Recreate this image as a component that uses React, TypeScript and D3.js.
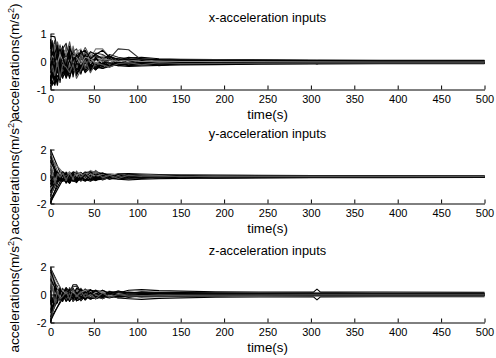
import React, { useEffect, useRef } from 'react';
import * as d3 from 'd3';

const timeSeconds = [0, 2, 5, 8, 11, 14, 18, 22, 26, 30, 35, 40, 46, 52, 60, 68, 78, 90, 105, 125, 150, 190, 240, 303, 307, 311, 380, 500];

const xTicks = [0, 50, 100, 150, 200, 250, 300, 350, 400, 450, 500];
const yTicksX = [-1, 0, 1];
const yTicksYZ = [-2, 0, 2];
const panelTitles = ['x-acceleration inputs', 'y-acceleration inputs', 'z-acceleration inputs'];
const xAxisLabel = 'time(s)';
const yAxisLabel = 'accelerations(m/s';

const xAccelTraces: (number | null)[][] = [
  [0.90, 0.90, 0.88, 0.40, 0.10, 0.30, 0.15, 0.05, 0.20, 0.10, 0.05, 0.12, 0.05, 0.10, 0.02, 0.05, 0.03, 0.12, 0.15, 0.10, 0.08, 0.07, 0.06, 0.05, 0.05, 0.05, 0.04, 0.04],
  [-0.90, -0.70, -0.85, -0.30, -0.55, -0.20, -0.40, -0.10, -0.30, -0.15, -0.25, -0.10, -0.20, -0.08, -0.12, -0.10, -0.15, -0.18, -0.16, -0.14, -0.12, -0.11, -0.10, -0.09, -0.09, -0.09, -0.08, -0.08],
  [0.60, 0.20, 0.50, 0.70, 0.30, 0.45, 0.20, 0.70, 0.10, 0.30, 0.20, 0.50, 0.15, 0.20, 0.10, 0.08, 0.05, 0.04, 0.06, 0.05, 0.04, 0.03, 0.02, 0.02, 0.02, 0.02, 0.01, 0.01],
  [-0.50, -0.85, -0.20, -0.75, -0.30, -0.60, -0.25, -0.55, -0.20, -0.40, -0.30, -0.20, -0.25, -0.15, -0.15, -0.12, -0.10, -0.08, -0.10, -0.09, -0.08, -0.07, -0.06, -0.06, -0.06, -0.06, -0.05, -0.05],
  [0.30, 0.60, 0.10, 0.45, 0.60, 0.10, 0.50, 0.30, 0.45, 0.15, 0.35, 0.25, 0.30, 0.12, 0.20, 0.10, 0.10, 0.08, 0.04, 0.03, 0.02, 0.02, 0.01, 0.00, 0.06, 0.00, -0.01, -0.01],
  [-0.20, 0.30, -0.60, 0.10, -0.75, 0.20, -0.50, 0.10, -0.45, -0.10, -0.40, 0.00, -0.30, -0.20, -0.10, -0.15, -0.12, -0.10, -0.08, -0.07, -0.06, -0.05, -0.05, -0.04, -0.09, -0.04, -0.04, -0.04],
  [0.70, 0.40, 0.75, 0.20, 0.55, 0.35, 0.40, 0.15, 0.35, 0.45, 0.10, 0.20, 0.05, 0.30, 0.25, 0.10, 0.45, 0.42, 0.05, 0.03, 0.02, 0.04, 0.03, 0.02, 0.02, 0.02, 0.02, 0.01],
  [-0.80, -0.30, -0.45, -0.85, -0.10, -0.45, -0.15, -0.60, -0.05, -0.50, -0.15, -0.35, -0.10, -0.30, -0.05, -0.20, -0.05, -0.12, -0.03, -0.15, -0.06, -0.08, -0.07, -0.07, -0.07, -0.07, -0.06, -0.06],
  [0.10, -0.50, 0.40, -0.10, 0.50, -0.30, 0.60, -0.20, 0.30, -0.30, 0.20, -0.15, 0.10, 0.45, 0.45, 0.15, 0.05, 0.06, 0.02, 0.01, 0.00, 0.01, 0.00, -0.01, -0.01, -0.01, -0.01, -0.02],
  [-0.40, 0.10, -0.70, 0.30, -0.40, 0.55, -0.35, 0.40, -0.55, 0.20, -0.25, 0.35, -0.15, 0.15, -0.20, 0.05, -0.10, 0.05, -0.06, 0.00, -0.03, -0.04, -0.03, -0.03, -0.03, -0.03, -0.03, -0.03],
  [0.50, 0.75, 0.20, 0.60, 0.00, 0.45, 0.65, 0.00, 0.40, 0.05, 0.30, 0.10, 0.20, 0.20, 0.05, 0.25, 0.15, 0.10, 0.08, 0.05, 0.04, 0.05, 0.04, 0.03, 0.03, 0.03, 0.02, 0.02],
  [-0.60, -0.40, -0.80, -0.50, -0.65, -0.35, -0.55, -0.30, -0.40, -0.25, -0.35, -0.20, -0.15, -0.25, -0.18, -0.08, -0.15, -0.10, -0.12, -0.08, -0.07, -0.09, -0.08, -0.07, -0.07, -0.07, -0.06, -0.06],
  [0.20, 0.50, -0.10, 0.35, 0.20, -0.15, 0.25, 0.50, -0.05, 0.35, 0.45, -0.10, 0.25, 0.05, 0.15, -0.05, 0.10, 0.00, 0.05, 0.02, 0.03, 0.00, 0.01, 0.00, 0.00, 0.00, 0.00, 0.00],
  [-0.10, -0.60, 0.30, -0.40, 0.15, -0.50, 0.00, -0.45, 0.15, -0.35, 0.00, -0.30, 0.05, -0.20, -0.25, -0.10, -0.02, -0.15, -0.10, -0.02, -0.05, -0.06, -0.05, -0.05, -0.05, -0.05, -0.05, -0.04],
  [0.40, 0.00, 0.60, -0.20, 0.40, 0.10, 0.30, -0.30, 0.55, 0.00, 0.15, 0.30, -0.05, 0.10, 0.00, 0.12, 0.02, 0.08, 0.00, 0.04, 0.07, 0.06, 0.03, 0.01, 0.01, 0.01, 0.00, 0.00],
  [-0.30, 0.20, -0.35, 0.50, -0.20, 0.25, -0.45, 0.20, -0.30, 0.25, -0.45, 0.15, -0.35, 0.10, -0.10, 0.20, -0.05, -0.03, 0.05, -0.05, 0.01, -0.02, -0.02, -0.02, -0.02, -0.02, -0.02, -0.02],
  [0.05, 0.35, -0.25, 0.15, -0.35, 0.35, -0.10, 0.30, -0.25, 0.20, -0.20, 0.25, -0.20, 0.15, -0.15, 0.12, -0.12, 0.10, -0.08, 0.06, -0.04, 0.03, -0.05, -0.06, -0.06, -0.06, -0.05, -0.05],
  [-0.05, -0.35, 0.25, -0.15, 0.35, -0.35, 0.10, -0.30, 0.25, -0.20, 0.20, -0.25, 0.20, -0.15, 0.15, -0.12, 0.12, -0.10, 0.08, -0.06, 0.04, -0.03, 0.04, 0.02, 0.02, 0.02, 0.02, 0.01],
  [0.80, 0.10, 0.30, 0.55, -0.30, 0.40, 0.10, 0.45, 0.25, -0.05, 0.40, 0.05, 0.35, 0.25, 0.10, 0.20, 0.05, 0.15, 0.10, 0.07, 0.05, 0.04, 0.03, 0.02, 0.02, 0.02, 0.01, 0.01],
  [-0.70, -0.10, -0.55, -0.20, -0.45, -0.05, -0.60, -0.25, -0.15, -0.45, -0.05, -0.40, -0.20, -0.10, -0.25, -0.18, -0.10, -0.14, -0.12, -0.10, -0.09, -0.08, -0.07, -0.06, -0.06, -0.06, -0.06, -0.05],
  [0.00, 0.20, 0.10, -0.05, 0.25, 0.05, 0.15, -0.05, 0.20, 0.15, -0.10, 0.15, 0.10, -0.05, 0.10, 0.05, 0.00, 0.05, 0.00, 0.02, 0.00, 0.00, -0.01, -0.01, -0.01, -0.01, -0.01, -0.01],
  [-0.15, 0.00, -0.25, -0.40, -0.05, -0.25, -0.30, 0.05, -0.30, -0.05, -0.20, -0.05, -0.15, -0.30, -0.05, -0.05, -0.08, -0.06, -0.04, -0.06, -0.05, -0.05, -0.04, -0.04, -0.04, -0.04, -0.04, -0.04],
  [0.45, 0.65, 0.00, 0.25, 0.45, 0.15, -0.20, 0.55, 0.05, 0.20, 0.30, 0.40, 0.10, 0.25, 0.40, 0.15, 0.10, 0.06, 0.10, 0.06, 0.05, 0.04, 0.04, 0.03, 0.03, 0.03, 0.02, 0.02],
  [-0.35, -0.15, -0.50, 0.00, -0.60, -0.10, -0.20, -0.40, -0.10, -0.60, -0.30, 0.05, -0.40, -0.05, -0.12, -0.20, -0.08, -0.04, -0.12, -0.04, -0.07, -0.07, -0.06, -0.05, -0.05, -0.05, -0.05, -0.05],
];

const yAccelTraces: (number | null)[][] = [
  [2.00, null, null, null, 0.30, 0.10, 0.20, -0.10, 0.15, 0.05, 0.20, 0.10, 0.25, 0.15, 0.10, 0.05, 0.20, 0.22, 0.18, 0.14, 0.12, 0.10, 0.08, 0.07, 0.07, 0.07, 0.07, 0.06],
  [-2.00, null, null, -0.50, -0.20, -0.35, -0.10, -0.50, -0.15, -0.30, -0.05, -0.25, -0.10, -0.20, -0.12, -0.15, -0.20, -0.25, -0.20, -0.16, -0.14, -0.12, -0.10, -0.09, -0.09, -0.09, -0.08, -0.07],
  [1.70, null, null, 0.40, -0.10, 0.30, 0.00, 0.25, -0.05, 0.30, 0.10, 0.35, 0.05, 0.40, 0.15, 0.20, 0.10, 0.12, 0.08, 0.06, 0.04, 0.06, 0.05, 0.04, 0.04, 0.04, 0.04, 0.03],
  [-1.70, null, null, null, -0.40, 0.10, -0.50, 0.05, -0.30, -0.45, 0.00, -0.30, -0.15, -0.05, -0.20, -0.10, -0.15, -0.06, -0.10, -0.08, -0.05, -0.08, -0.07, -0.06, -0.06, -0.06, -0.05, -0.05],
  [1.40, null, 0.50, null, 0.20, -0.20, 0.35, -0.15, 0.30, -0.10, 0.25, -0.05, 0.45, 0.30, 0.00, 0.15, -0.05, 0.08, 0.02, 0.03, 0.00, 0.02, 0.01, 0.00, 0.00, 0.00, 0.00, 0.00],
  [-1.40, null, null, null, 0.10, -0.30, 0.15, -0.45, 0.10, -0.20, -0.30, 0.05, -0.25, 0.10, -0.15, 0.00, -0.12, -0.04, -0.08, -0.02, -0.06, -0.04, -0.03, -0.03, -0.03, -0.03, -0.03, -0.02],
  [1.10, null, null, 0.20, 0.35, 0.00, 0.25, 0.20, -0.10, 0.20, 0.30, -0.10, 0.30, 0.35, 0.20, -0.05, 0.18, 0.00, 0.05, -0.02, 0.03, 0.00, 0.02, 0.01, 0.01, 0.01, 0.01, 0.01],
  [-1.10, null, null, -0.30, 0.00, -0.25, -0.40, -0.20, -0.35, 0.10, -0.20, -0.35, -0.05, -0.30, 0.05, -0.18, 0.00, -0.12, -0.02, -0.10, -0.03, -0.06, -0.05, -0.05, -0.05, -0.05, -0.04, -0.04],
  [0.80, null, 0.30, -0.20, 0.25, 0.30, -0.10, 0.30, 0.20, 0.00, 0.15, 0.30, 0.15, 0.25, -0.10, 0.10, 0.05, 0.10, 0.06, 0.04, 0.05, 0.03, 0.02, 0.02, 0.02, 0.02, 0.02, 0.02],
  [-0.80, null, -0.20, 0.20, -0.30, 0.20, -0.20, 0.00, -0.25, 0.15, -0.35, 0.10, -0.30, 0.00, -0.25, -0.05, -0.10, -0.08, -0.12, -0.04, -0.07, -0.02, -0.04, -0.03, -0.03, -0.03, -0.02, -0.02],
  [0.50, null, 0.10, 0.40, -0.15, 0.35, 0.05, 0.15, 0.30, -0.15, 0.20, 0.15, -0.10, 0.20, 0.25, 0.10, -0.05, 0.15, 0.10, 0.00, 0.02, 0.04, 0.03, 0.03, 0.03, 0.03, 0.02, 0.02],
  [-0.50, null, -0.60, -0.10, -0.35, -0.05, -0.30, -0.50, 0.00, -0.40, -0.10, -0.20, -0.35, -0.15, -0.05, -0.20, -0.05, -0.15, -0.05, -0.06, -0.02, -0.04, -0.02, -0.02, -0.02, -0.02, -0.02, -0.01],
  [0.25, 0.60, -0.30, 0.30, 0.10, 0.25, -0.25, 0.10, 0.25, 0.10, -0.05, 0.25, 0.05, 0.10, 0.10, 0.20, 0.15, -0.02, 0.12, 0.08, 0.06, 0.01, 0.03, 0.02, 0.02, 0.02, 0.01, 0.01],
  [-0.25, -0.70, 0.20, -0.40, -0.10, -0.15, 0.20, -0.30, -0.20, -0.25, 0.05, -0.15, 0.00, -0.25, -0.20, 0.05, -0.18, -0.05, 0.00, -0.10, -0.05, -0.05, -0.04, -0.04, -0.04, -0.04, -0.03, -0.03],
  [1.90, 1.20, null, null, null, 0.30, 0.10, 0.35, 0.05, 0.25, 0.20, 0.00, 0.40, 0.20, 0.05, 0.12, 0.02, 0.06, 0.00, 0.05, 0.10, 0.08, 0.06, 0.05, 0.05, 0.05, 0.05, 0.04],
  [-1.90, null, null, null, null, -0.25, 0.05, -0.35, -0.05, -0.20, -0.15, -0.05, -0.20, 0.05, -0.10, -0.12, -0.03, -0.04, -0.08, -0.03, -0.04, -0.10, -0.08, -0.07, -0.07, -0.07, -0.06, -0.06],
  [1.50, null, null, 0.10, 0.25, -0.15, 0.30, 0.05, 0.30, -0.15, 0.30, 0.00, 0.25, -0.10, 0.20, 0.10, -0.05, 0.15, 0.05, 0.08, 0.03, 0.05, 0.04, 0.03, 0.03, 0.03, 0.03, 0.02],
  [-1.50, null, null, -0.10, -0.25, 0.15, -0.30, -0.05, -0.30, 0.15, -0.30, 0.00, -0.25, 0.10, -0.20, -0.10, 0.05, -0.15, -0.05, -0.08, -0.03, -0.05, -0.04, -0.03, -0.03, -0.03, -0.03, -0.02],
  [1.20, null, 0.40, 0.30, 0.10, 0.35, 0.15, 0.00, 0.35, 0.25, 0.05, 0.30, 0.35, 0.10, 0.25, 0.00, 0.12, 0.06, 0.10, 0.03, 0.06, 0.02, 0.01, 0.01, 0.01, 0.01, 0.01, 0.01],
  [-1.20, null, -0.40, -0.30, -0.10, -0.35, -0.15, 0.00, -0.35, -0.25, -0.05, -0.30, -0.20, -0.30, -0.05, -0.15, -0.12, -0.06, -0.10, -0.03, -0.08, -0.03, -0.02, -0.02, -0.02, -0.02, -0.02, -0.01],
  [0.60, null, -0.40, 0.00, 0.30, -0.10, 0.10, 0.30, -0.20, 0.10, 0.25, -0.20, 0.20, 0.00, 0.15, -0.10, 0.10, -0.05, 0.04, 0.06, -0.02, 0.03, 0.00, 0.00, 0.00, 0.00, 0.00, 0.00],
  [-0.60, null, 0.40, 0.00, -0.30, 0.10, -0.10, -0.30, 0.20, -0.10, -0.25, 0.20, -0.20, 0.00, -0.15, 0.10, -0.10, 0.05, -0.04, -0.06, 0.02, -0.03, -0.01, -0.01, -0.01, -0.01, -0.01, -0.01],
  [0.10, -0.50, 0.50, -0.20, 0.05, -0.25, 0.25, -0.25, 0.15, -0.40, 0.05, -0.25, 0.10, -0.20, 0.10, -0.10, 0.15, -0.10, 0.00, 0.02, -0.02, 0.01, 0.00, 0.00, 0.00, 0.00, 0.00, 0.00],
  [-0.10, 0.50, -0.50, 0.20, -0.05, 0.25, -0.25, 0.25, -0.15, 0.40, -0.05, 0.25, -0.10, 0.45, -0.10, 0.10, -0.15, 0.10, 0.00, -0.02, 0.02, -0.01, 0.00, 0.00, 0.00, 0.00, 0.00, 0.00],
];

const zAccelTraces: (number | null)[][] = [
  [1.90, null, null, null, 0.50, -0.10, 0.40, 0.10, 0.70, 0.70, 0.20, 0.35, 0.10, 0.25, 0.05, 0.20, 0.10, 0.30, 0.35, 0.28, 0.24, 0.20, 0.18, 0.17, 0.38, 0.17, 0.17, 0.16],
  [-1.90, null, null, null, -0.50, 0.00, -0.45, -0.10, -0.40, 0.10, -0.45, -0.05, -0.35, -0.10, -0.30, -0.05, -0.25, -0.30, -0.35, -0.28, -0.24, -0.20, -0.18, -0.17, -0.38, -0.17, -0.16, -0.16],
  [1.60, null, null, 0.50, 0.00, 0.45, -0.20, 0.50, 0.00, 0.40, 0.10, 0.30, 0.35, 0.00, 0.30, 0.10, 0.25, 0.05, 0.18, 0.08, 0.12, 0.10, 0.09, 0.08, 0.08, 0.08, 0.08, 0.08],
  [-1.60, null, null, -0.40, -0.10, -0.50, 0.10, -0.45, -0.20, -0.30, 0.05, -0.40, 0.00, -0.30, -0.15, -0.25, -0.05, -0.20, -0.10, -0.14, -0.08, -0.10, -0.09, -0.08, -0.08, -0.08, -0.08, -0.07],
  [1.30, null, 0.70, 0.10, 0.40, 0.20, 0.45, -0.20, 0.30, 0.20, 0.45, 0.00, 0.25, 0.30, 0.10, 0.25, 0.00, 0.20, 0.10, 0.14, 0.02, 0.08, 0.03, 0.03, 0.03, 0.03, 0.15, 0.04],
  [-1.30, null, -0.60, 0.20, -0.40, 0.10, -0.30, 0.30, -0.50, -0.20, -0.10, -0.35, 0.15, -0.20, 0.00, -0.20, 0.10, -0.10, -0.15, 0.00, -0.12, -0.04, -0.05, -0.04, -0.04, -0.04, -0.04, -0.04],
  [1.00, null, null, 0.60, -0.30, 0.30, 0.10, 0.30, 0.55, 0.60, 0.00, 0.40, -0.10, 0.30, 0.20, 0.00, 0.20, 0.00, 0.12, 0.04, 0.10, 0.02, 0.02, 0.02, 0.02, 0.02, 0.02, 0.03],
  [-1.00, null, null, -0.60, 0.30, -0.30, -0.10, -0.50, 0.20, -0.45, -0.30, 0.10, -0.30, -0.20, -0.25, 0.05, -0.20, -0.05, -0.12, -0.05, -0.06, -0.09, -0.03, -0.03, -0.03, -0.03, -0.03, -0.03],
  [0.70, null, 0.40, -0.20, 0.20, -0.40, 0.30, 0.00, -0.30, 0.30, 0.25, -0.20, 0.30, 0.10, -0.10, 0.15, 0.05, 0.10, 0.02, 0.10, 0.06, 0.05, 0.06, 0.00, 0.00, 0.00, 0.01, 0.01],
  [-0.70, null, -0.30, 0.30, -0.20, 0.40, -0.40, 0.20, -0.10, -0.40, 0.30, -0.10, -0.25, 0.15, -0.20, -0.10, -0.15, 0.05, -0.08, -0.10, -0.04, -0.02, -0.06, -0.01, -0.01, -0.01, -0.01, -0.01],
  [0.40, 0.90, 0.20, 0.40, 0.00, 0.35, -0.05, 0.40, 0.15, 0.00, 0.35, 0.20, 0.05, 0.20, 0.25, -0.05, 0.15, 0.10, 0.00, 0.06, 0.08, 0.04, 0.04, 0.04, 0.04, 0.04, 0.03, 0.02],
  [-0.40, -1.00, 0.00, -0.30, -0.35, 0.00, -0.35, 0.10, -0.40, 0.10, -0.20, 0.05, -0.15, -0.25, 0.05, -0.20, -0.10, -0.15, -0.05, -0.08, -0.02, -0.10, -0.02, -0.02, -0.02, -0.02, -0.02, -0.02],
  [0.15, 1.30, -0.20, 0.50, 0.10, -0.20, 0.35, -0.30, 0.40, 0.10, -0.15, 0.25, 0.20, -0.05, 0.15, 0.10, -0.05, 0.12, 0.05, 0.02, 0.04, 0.00, 0.01, 0.01, 0.01, 0.01, 0.00, 0.00],
  [-0.15, -1.40, 0.10, -0.50, 0.15, -0.45, 0.20, -0.15, 0.05, -0.30, 0.15, -0.30, -0.05, 0.05, -0.10, 0.05, -0.12, -0.02, 0.05, -0.05, 0.00, -0.03, 0.00, 0.00, 0.00, 0.00, -0.01, -0.01],
  [2.00, 1.50, null, null, null, 0.20, 0.45, -0.05, 0.35, 0.15, 0.40, 0.00, 0.15, 0.15, 0.20, 0.15, 0.05, 0.08, 0.10, 0.00, 0.03, 0.02, 0.00, 0.00, 0.00, 0.00, 0.00, 0.00],
  [-2.00, -1.50, null, null, null, -0.30, 0.00, -0.30, -0.05, -0.15, -0.40, -0.15, -0.10, -0.30, -0.05, -0.15, -0.05, -0.18, -0.05, -0.03, -0.08, -0.06, -0.01, -0.01, -0.01, -0.01, -0.02, -0.02],
  [1.75, null, null, 0.20, 0.45, -0.20, 0.40, -0.10, 0.45, 0.00, 0.40, -0.10, 0.35, 0.00, 0.30, 0.05, 0.25, 0.10, 0.20, 0.16, 0.14, 0.12, 0.10, 0.10, 0.10, 0.10, 0.10, 0.10],
  [-1.75, null, null, -0.20, -0.45, 0.20, -0.40, 0.10, -0.45, 0.00, -0.40, 0.10, -0.35, 0.00, -0.30, -0.05, -0.25, -0.10, -0.20, -0.16, -0.14, -0.12, -0.10, -0.10, -0.10, -0.10, -0.10, -0.10],
  [1.15, null, 0.50, -0.30, 0.35, 0.00, 0.50, 0.20, -0.10, 0.45, 0.30, 0.15, 0.30, 0.25, 0.00, 0.20, 0.15, 0.15, 0.12, 0.10, 0.08, 0.06, 0.05, 0.05, 0.05, 0.05, 0.05, 0.05],
  [-1.15, null, -0.50, 0.30, -0.35, 0.00, -0.50, -0.20, 0.10, -0.45, -0.30, -0.15, -0.30, -0.25, 0.00, -0.20, -0.15, -0.15, -0.12, -0.10, -0.08, -0.06, -0.05, -0.05, -0.05, -0.05, -0.05, -0.05],
  [0.55, null, 0.00, 0.30, -0.20, 0.30, 0.00, 0.25, 0.20, -0.15, 0.15, 0.30, -0.15, 0.15, 0.20, -0.10, 0.08, 0.05, -0.02, 0.04, 0.03, 0.02, 0.02, 0.02, 0.02, 0.02, 0.02, 0.02],
  [-0.55, null, 0.00, -0.30, 0.20, -0.30, 0.00, -0.25, -0.20, 0.15, -0.15, -0.30, 0.15, -0.15, -0.20, 0.10, -0.08, -0.05, 0.02, -0.04, -0.03, -0.02, -0.02, -0.02, -0.02, -0.02, -0.02, -0.02],
  [0.30, -0.60, 0.60, -0.20, 0.30, 0.15, -0.20, 0.35, -0.35, 0.15, -0.20, 0.20, 0.00, 0.30, -0.10, 0.20, 0.00, 0.12, 0.08, 0.10, 0.06, 0.05, 0.04, 0.03, 0.03, 0.03, 0.03, 0.03],
  [-0.30, 0.60, -0.60, 0.20, -0.30, -0.15, 0.20, -0.35, 0.35, -0.15, 0.20, -0.20, 0.00, -0.30, 0.10, -0.20, 0.00, -0.12, -0.08, -0.10, -0.06, -0.05, -0.04, -0.03, -0.03, -0.03, -0.03, -0.03],
];

const traceShades = ['#000', '#000', '#555', '#000', '#888', '#000', '#333', '#000', '#777', '#000', '#222', '#000', '#999', '#000', '#666', '#000', '#000', '#444', '#000', '#000', '#888', '#000', '#000', '#555'];

export default function App() {
  const ref = useRef<SVGSVGElement>(null);
  useEffect(() => {
    const svg = d3.select(ref.current);
    svg.selectAll('*').remove();
    const font = '"Liberation Sans", Arial, Helvetica, sans-serif';
    const left = 50.5;
    const right = 484.5;
    svg.append('rect').attr('width', 496).attr('height', 358).attr('fill', '#fff');
    const x = d3.scaleLinear().domain([0, 500]).range([left, right]);
    const panels = [
      { title: panelTitles[0], traces: xAccelTraces, domain: [-1, 1], ticks: yTicksX, top: 33.5, bottom: 89.5 },
      { title: panelTitles[1], traces: yAccelTraces, domain: [-2, 2], ticks: yTicksYZ, top: 149.5, bottom: 203.5 },
      { title: panelTitles[2], traces: zAccelTraces, domain: [-2, 2], ticks: yTicksYZ, top: 266.5, bottom: 322.5 },
    ];
    panels.forEach((p) => {
      const y = d3.scaleLinear().domain(p.domain).range([p.bottom, p.top]);
      const g = svg.append('g');
      const line = d3.line<[number, number]>().x((d) => x(d[0])).y((d) => y(d[1]));
      p.traces.forEach((tr, i) => {
        const pts = timeSeconds
          .map((t, j) => [t, tr[j]] as [number, number | null])
          .filter((d) => d[1] !== null) as [number, number][];
        g.append('path')
          .attr('d', line(pts))
          .attr('fill', 'none')
          .attr('stroke', traceShades[i % traceShades.length])
          .attr('stroke-width', 1.15)
          .attr('stroke-linejoin', 'round');
      });
      const xa = g.append('g').attr('transform', `translate(0,${p.bottom})`)
        .call(d3.axisBottom(x).tickValues(xTicks).tickSizeInner(-4).tickSizeOuter(0).tickPadding(6).tickFormat((d) => String(d)));
      const ya = g.append('g').attr('transform', `translate(${left},0)`)
        .call(d3.axisLeft(y).tickValues(p.ticks).tickSizeInner(-4).tickSizeOuter(0).tickPadding(4).tickFormat((d) => String(d)));
      [xa, ya].forEach((a) => {
        a.attr('font-family', font).attr('font-size', 11);
        a.selectAll('path,line').attr('stroke', '#000');
        a.selectAll('text').attr('fill', '#000');
      });
      const cx = (left + right) / 2;
      g.append('text').attr('x', cx).attr('y', p.top - 12).attr('text-anchor', 'middle')
        .attr('font-family', font).attr('font-size', 12.8).text(p.title);
      g.append('text').attr('x', cx).attr('y', p.bottom + 29).attr('text-anchor', 'middle')
        .attr('font-family', font).attr('font-size', 13.3).text(xAxisLabel);
      const cy = (p.top + p.bottom) / 2;
      const yl = g.append('text').attr('transform', `translate(19,${cy}) rotate(-90)`).attr('text-anchor', 'middle')
        .attr('font-family', font).attr('font-size', 13.6);
      yl.append('tspan').text(yAxisLabel);
      yl.append('tspan').attr('dy', -5.5).attr('font-size', 9.2).text('2');
      yl.append('tspan').attr('dy', 5.5).text(')');
    });
  }, []);
  return <svg ref={ref} width={496} height={358} style={{ position: 'absolute', left: 0, top: 0 }} />;
}
